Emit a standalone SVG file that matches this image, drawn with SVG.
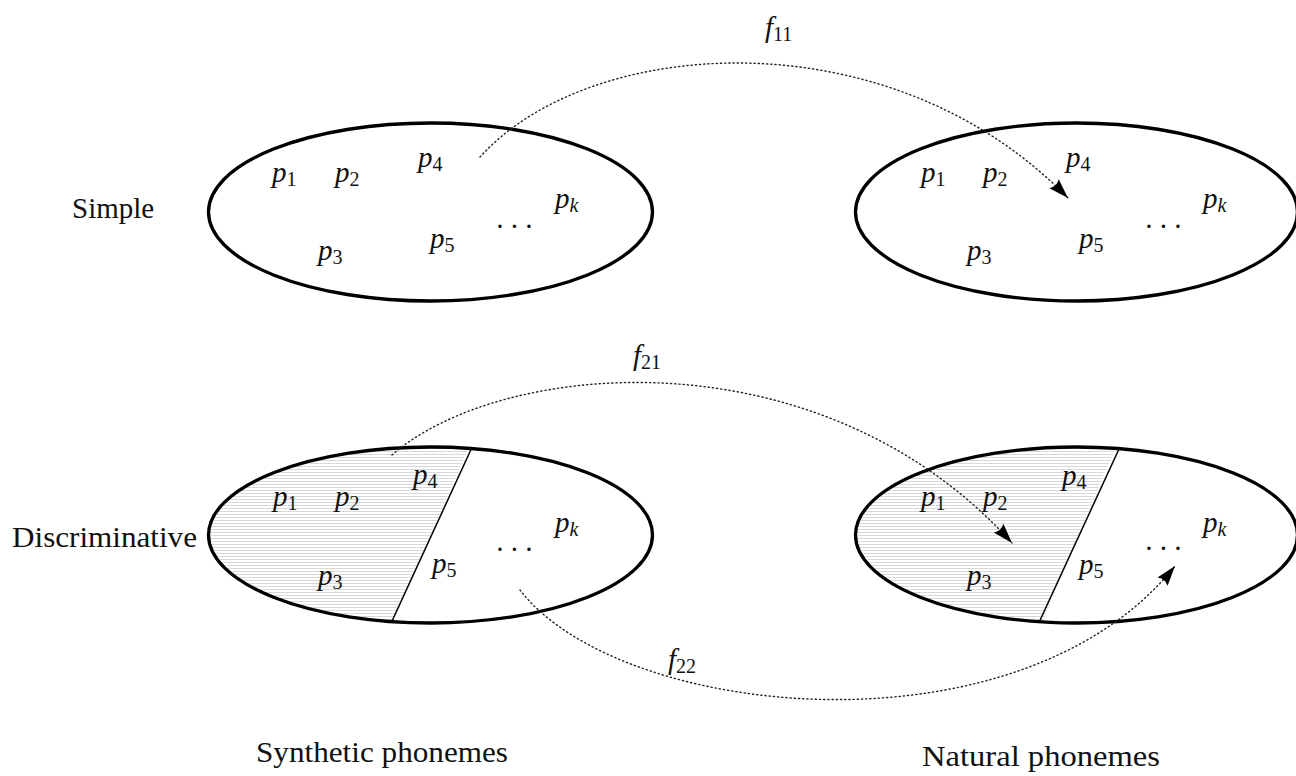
<svg xmlns="http://www.w3.org/2000/svg" width="1296" height="776" viewBox="0 0 1296 776">
<style>
.ell{fill:none;stroke:#000;stroke-width:3.3}
.div{stroke:#000;stroke-width:1.5;fill:none}
.lbl{font-family:"Liberation Serif",serif;font-size:29px;fill:#111}
.m{font-family:"Liberation Serif",serif;font-style:italic;font-size:29px;fill:#111}
.s{font-size:20px}
.sn{font-size:20px;font-style:normal}
.con{fill:none;stroke:#222;stroke-width:1.4;stroke-dasharray:1.2 3;stroke-linecap:round}
</style>
<defs>
<pattern id="hatch" patternUnits="userSpaceOnUse" width="10" height="3">
<rect x="0" y="1" width="10" height="1" fill="#d8d8d8"/>
</pattern>
<marker id="arr" markerUnits="userSpaceOnUse" markerWidth="22" markerHeight="14" refX="20" refY="6.5" orient="auto">
<path d="M0,0 Q4,6.5 0,13 L20,6.5 Z" fill="#000"/>
</marker>
<clipPath id="cl"><ellipse cx="430.5" cy="535" rx="222" ry="88"/></clipPath>
<clipPath id="cr"><ellipse cx="1076.5" cy="535" rx="221" ry="88"/></clipPath>
</defs>

<text class="lbl" x="72" y="218">Simple</text>
<text class="lbl" x="12" y="547" textLength="185" lengthAdjust="spacingAndGlyphs">Discriminative</text>
<text class="lbl" x="256" y="762" textLength="252" lengthAdjust="spacingAndGlyphs">Synthetic phonemes</text>
<text class="lbl" x="922" y="766" textLength="238" lengthAdjust="spacingAndGlyphs">Natural phonemes</text>

<g id="simple-synthetic">
<ellipse class="ell" cx="430.5" cy="212" rx="222" ry="89"/>
<text class="m" x="272" y="182">p<tspan class="sn" dy="4">1</tspan></text>
<text class="m" x="335" y="182">p<tspan class="sn" dy="4">2</tspan></text>
<text class="m" x="418" y="167">p<tspan class="sn" dy="4">4</tspan></text>
<text class="m" x="555" y="208">p<tspan class="s" dy="4">k</tspan></text>
<text class="m" x="497" y="228">. . .</text>
<text class="m" x="318" y="260">p<tspan class="sn" dy="4">3</tspan></text>
<text class="m" x="430" y="248">p<tspan class="sn" dy="4">5</tspan></text>
</g>

<g id="simple-natural">
<ellipse class="ell" cx="1076.5" cy="212" rx="221" ry="89"/>
<text class="m" x="921" y="182">p<tspan class="sn" dy="4">1</tspan></text>
<text class="m" x="983" y="182">p<tspan class="sn" dy="4">2</tspan></text>
<text class="m" x="1066" y="167">p<tspan class="sn" dy="4">4</tspan></text>
<text class="m" x="1203" y="208">p<tspan class="s" dy="4">k</tspan></text>
<text class="m" x="1146" y="228">. . .</text>
<text class="m" x="967" y="260">p<tspan class="sn" dy="4">3</tspan></text>
<text class="m" x="1079" y="248">p<tspan class="sn" dy="4">5</tspan></text>
</g>

<g id="disc-synthetic">
<g clip-path="url(#cl)"><polygon points="200,430 476,430 386,640 200,640" fill="url(#hatch)"/></g>
<ellipse class="ell" cx="430.5" cy="535" rx="222" ry="88"/>
<line class="div" x1="471.7" y1="448" x2="391.7" y2="621.7"/>
<text class="m" x="273" y="506">p<tspan class="sn" dy="4">1</tspan></text>
<text class="m" x="335" y="506">p<tspan class="sn" dy="4">2</tspan></text>
<text class="m" x="413" y="484">p<tspan class="sn" dy="4">4</tspan></text>
<text class="m" x="555" y="532">p<tspan class="s" dy="4">k</tspan></text>
<text class="m" x="497" y="551">. . .</text>
<text class="m" x="318" y="585">p<tspan class="sn" dy="4">3</tspan></text>
<text class="m" x="432" y="573">p<tspan class="sn" dy="4">5</tspan></text>
</g>

<g id="disc-natural">
<g clip-path="url(#cr)"><polygon points="850,430 1123,430 1035,640 850,640" fill="url(#hatch)"/></g>
<ellipse class="ell" cx="1076.5" cy="535" rx="221" ry="88"/>
<line class="div" x1="1119" y1="449" x2="1039" y2="622.5"/>
<text class="m" x="921" y="506">p<tspan class="sn" dy="4">1</tspan></text>
<text class="m" x="983" y="506">p<tspan class="sn" dy="4">2</tspan></text>
<text class="m" x="1062" y="485">p<tspan class="sn" dy="4">4</tspan></text>
<text class="m" x="1203" y="532">p<tspan class="s" dy="4">k</tspan></text>
<text class="m" x="1146" y="550">. . .</text>
<text class="m" x="967" y="585">p<tspan class="sn" dy="4">3</tspan></text>
<text class="m" x="1079" y="574">p<tspan class="sn" dy="4">5</tspan></text>
</g>

<g id="connectors">
<path class="con" d="M480,157 C590,35 890,15 1068,198" marker-end="url(#arr)"/>
<path class="con" d="M392,455 C500,360 820,330 1012,543" marker-end="url(#arr)"/>
<path class="con" d="M520,590 C620,720 1020,760 1175,566" marker-end="url(#arr)"/>
<text class="m" x="765" y="37">f<tspan class="sn" dy="4">11</tspan></text>
<text class="m" x="633" y="365">f<tspan class="sn" dy="4">21</tspan></text>
<text class="m" x="668" y="669">f<tspan class="sn" dy="4">22</tspan></text>
</g>
</svg>
